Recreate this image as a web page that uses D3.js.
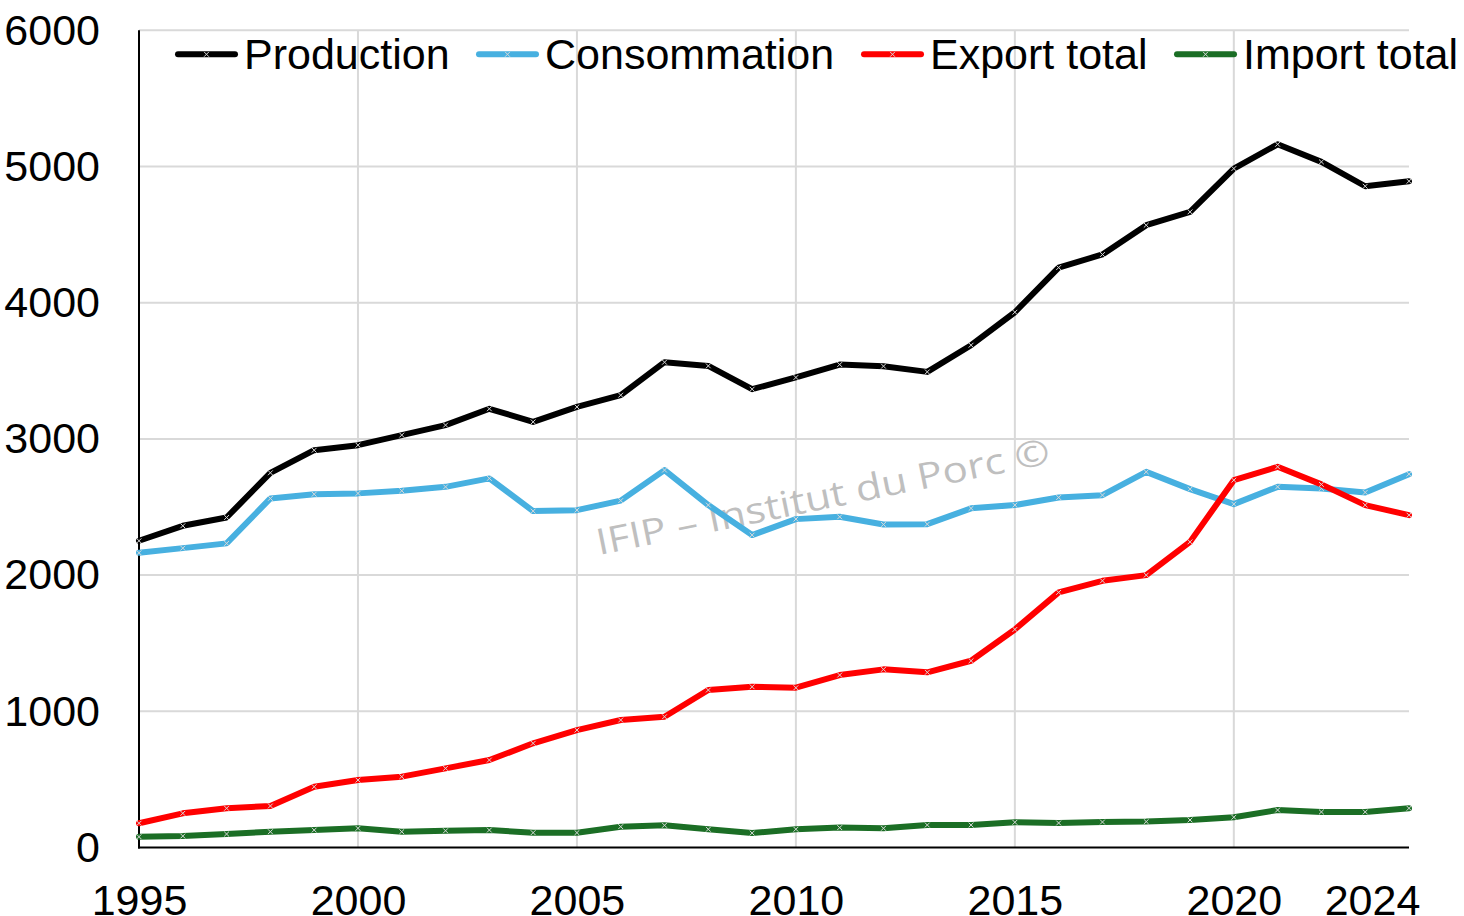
<!DOCTYPE html>
<html>
<head>
<meta charset="utf-8">
<script src="https://cdn.jsdelivr.net/npm/d3@7"></script>
<style>
  html, body { margin: 0; padding: 0; background: #fff; }
  svg { display: block; }
</style>
</head>
<body>
<svg id="chart" width="1464" height="916"></svg>
<script>
const years = [1995,1996,1997,1998,1999,2000,2001,2002,2003,2004,2005,2006,2007,2008,2009,2010,2011,2012,2013,2014,2015,2016,2017,2018,2019,2020,2021,2022,2023,2024];
const production = [2252,2362,2423,2751,2917,2954,3028,3101,3221,3125,3235,3321,3563,3536,3365,3451,3546,3534,3492,3688,3930,4258,4354,4569,4667,4985,5163,5034,4855,4892];
const consommation = [2164,2198,2233,2563,2594,2600,2619,2648,2710,2470,2477,2547,2771,2514,2294,2411,2428,2372,2374,2490,2514,2570,2587,2758,2631,2521,2648,2636,2607,2741];
const exportTotal = [178,251,288,305,446,495,520,581,642,765,862,936,960,1156,1180,1173,1266,1308,1286,1371,1601,1873,1958,2000,2244,2697,2795,2666,2514,2440];
const importTotal = [79,84,99,116,128,141,116,123,128,109,109,153,163,134,106,134,146,141,165,165,185,180,187,190,202,222,275,261,261,288];
const seriesNames = ["Production", "Consommation", "Export total", "Import total"];
const seriesColors = ["#000000", "#47b0e0", "#ff0000", "#1b6e25"];
const yTicks = [0,1000,2000,3000,4000,5000,6000];
const xTicks = [1995,2000,2005,2010,2015,2020,2024];
const xGrid = [2000,2005,2010,2015,2020];
const watermark = "IFIP – Institut du Porc ©";

(function () {
const seriesValues = [production, consommation, exportTotal, importTotal];

const svg = d3.select("#chart");
const pLeft = 139, pRight = 1409, pTop = 30.3, pBottom = 847.5;
const x = d3.scaleLinear().domain([1995, 2024]).range([pLeft, pRight]);
const y = d3.scaleLinear().domain([0, 6000]).range([pBottom, pTop]);
const font = "'Liberation Sans', Arial, sans-serif";

// gridlines
svg.append("g").selectAll("line").data(yTicks.filter(d => d > 0)).join("line")
  .attr("x1", pLeft).attr("x2", pRight)
  .attr("y1", d => y(d)).attr("y2", d => y(d))
  .attr("stroke", "#d9d9d9").attr("stroke-width", 2);
svg.append("g").selectAll("line").data(xGrid).join("line")
  .attr("x1", d => x(d)).attr("x2", d => x(d))
  .attr("y1", pTop).attr("y2", pBottom)
  .attr("stroke", "#d9d9d9").attr("stroke-width", 2);

// watermark
svg.append("text")
  .attr("transform", "translate(599,555) rotate(-11.5)")
  .attr("font-family", "'Open Sans', 'Noto Sans', sans-serif")
  .attr("font-size", 36)
  .attr("fill", "#bfbfbf")
  .attr("textLength", 462)
  .attr("lengthAdjust", "spacingAndGlyphs")
  .text(watermark);

// axes
const yAxis = d3.axisLeft(y).tickValues(yTicks).tickSize(0).tickPadding(39).tickFormat(d3.format("d"));
const gy = svg.append("g").attr("transform", `translate(${pLeft},0)`).call(yAxis);
gy.select(".domain").remove();
gy.selectAll("text").attr("font-family", font).attr("font-size", 43).attr("fill", "#000");

const xAxis = d3.axisBottom(x).tickValues(xTicks).tickSize(0).tickPadding(37).tickFormat(d3.format("d"));
const gx = svg.append("g").attr("transform", `translate(0,${pBottom})`).call(xAxis);
gx.select(".domain").remove();
gx.selectAll("text").attr("font-family", font).attr("font-size", 43).attr("fill", "#000")
  .attr("dx", d => d === 2024 ? -37 : 0);

svg.append("line").attr("x1", pLeft).attr("x2", pLeft).attr("y1", pTop).attr("y2", pBottom + 1)
  .attr("stroke", "#000").attr("stroke-width", 2);
svg.append("line").attr("x1", pLeft - 1).attr("x2", pRight).attr("y1", pBottom).attr("y2", pBottom)
  .attr("stroke", "#000").attr("stroke-width", 2);

// lines
const line = d3.line().x((d, i) => x(years[i])).y(d => y(d));
const markerPath = (cx, cy, s) => `M${cx - s},${cy - s}L${cx + s},${cy + s}M${cx - s},${cy + s}L${cx + s},${cy - s}`;

seriesValues.forEach((vals, si) => {
  svg.append("path").datum(vals)
    .attr("d", line)
    .attr("fill", "none")
    .attr("stroke", seriesColors[si])
    .attr("stroke-width", 6)
    .attr("stroke-linejoin", "round")
    .attr("stroke-linecap", "round");
  svg.append("g").selectAll("path").data(vals).join("path")
    .attr("d", (d, i) => markerPath(x(years[i]), y(d), 2.4))
    .attr("stroke", "#d8d8d8").attr("stroke-width", 1).attr("fill", "none");
});

// legend
const legendLineX = [175, 476, 861, 1174];
const legendLen = 63;
const legendY = 54.3;
const lg = svg.append("g");
seriesNames.forEach((name, i) => {
  const x0 = legendLineX[i];
  lg.append("line").attr("x1", x0 + 3).attr("x2", x0 + legendLen - 3)
    .attr("y1", legendY).attr("y2", legendY)
    .attr("stroke", seriesColors[i]).attr("stroke-width", 6).attr("stroke-linecap", "round");
  lg.append("path").attr("d", markerPath(x0 + legendLen / 2, legendY, 2.4))
    .attr("stroke", "#d8d8d8").attr("stroke-width", 1);
  lg.append("text").attr("x", x0 + legendLen + 6).attr("y", 69)
    .attr("font-family", font).attr("font-size", 43).attr("fill", "#000")
    .text(name);
});
})();
</script>
</body>
</html>
